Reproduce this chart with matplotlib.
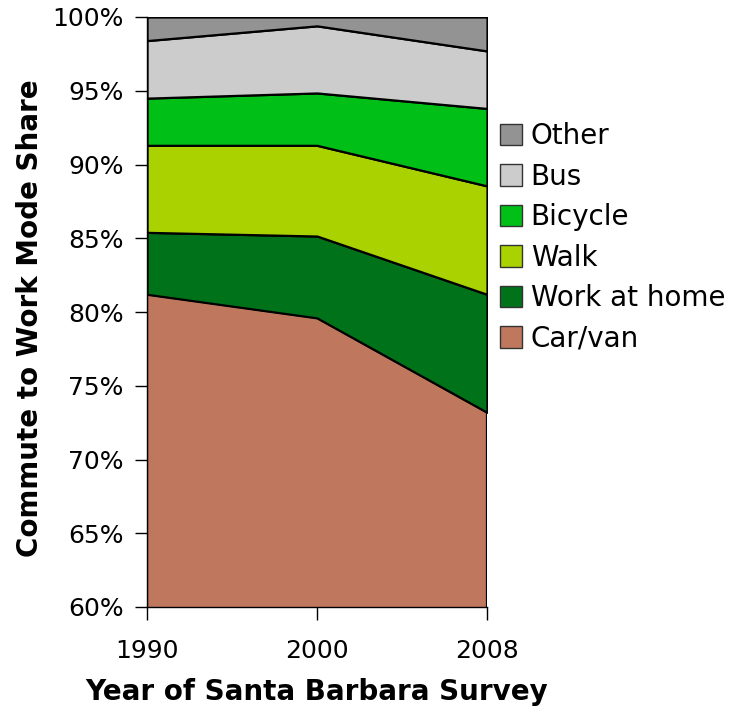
import matplotlib
matplotlib.use("Agg")
import matplotlib.pyplot as plt
from matplotlib.patches import Patch
from matplotlib.ticker import FuncFormatter

years = ["1990", "2000", "2008"]
modes = ["Car/van", "Work at home", "Walk", "Bicycle", "Bus", "Other"]
car_van = [81.2, 79.6, 73.2]
work_at_home = [4.2, 5.55, 8.0]
walk = [5.9, 6.15, 7.35]
bicycle = [3.2, 3.55, 5.25]
bus = [3.9, 4.55, 3.9]
other = [1.6, 0.6, 2.3]
colors = ["#BF785E", "#00731A", "#AAD200", "#00C018", "#CCCCCC", "#939393"]
yticks = [60, 65, 70, 75, 80, 85, 90, 95, 100]

plt.rcParams['font.family'] = ['DejaVu Sans']

fig = plt.figure(figsize=(7.39, 7.09), dpi=100)
ax = fig.add_axes([147/739, 1 - 607/709, (487-147)/739, (607-17)/709])

x = list(range(len(years)))
series = [car_van, work_at_home, walk, bicycle, bus, other]
ax.stackplot(x, *series, colors=colors, edgecolor="black", linewidth=1.6, labels=modes)

ax.set_xlim(0, len(years) - 1)
ax.set_ylim(60, 100)
ax.set_xticks(x)
ax.set_xticklabels(years)
ax.set_yticks(yticks)
ax.yaxis.set_major_formatter(FuncFormatter(lambda v, p: f"{v:.0f}%"))
ax.tick_params(axis="both", labelsize=18, length=9, width=1, direction="out", colors="black")
ax.tick_params(axis="x", pad=14)
ax.tick_params(axis="y", pad=8)
for s in ["top", "right"]:
    ax.spines[s].set_visible(False)
ax.spines["left"].set_linewidth(1)
ax.spines["bottom"].set_linewidth(1)

fig.text(316.5/739, 1 - 692/709, "Year of Santa Barbara Survey", fontsize=20,
         fontweight="bold", ha="center", va="center")
fig.text(30/739, 1 - 318/709, "Commute to Work Mode Share", fontsize=20,
         fontweight="bold", ha="center", va="center", rotation=90)

handles = [Patch(facecolor=c, edgecolor="#333333", linewidth=1) for c in colors][::-1]
labels = modes[::-1]
fig.legend(handles, labels, loc="upper left", bbox_to_anchor=(489/739, 1 - 111/709),
           frameon=False, fontsize=20, handlelength=0.8, handleheight=0.8,
           handletextpad=0.3, labelspacing=0.45, borderaxespad=0)

fig.savefig("out.png", dpi=100)
